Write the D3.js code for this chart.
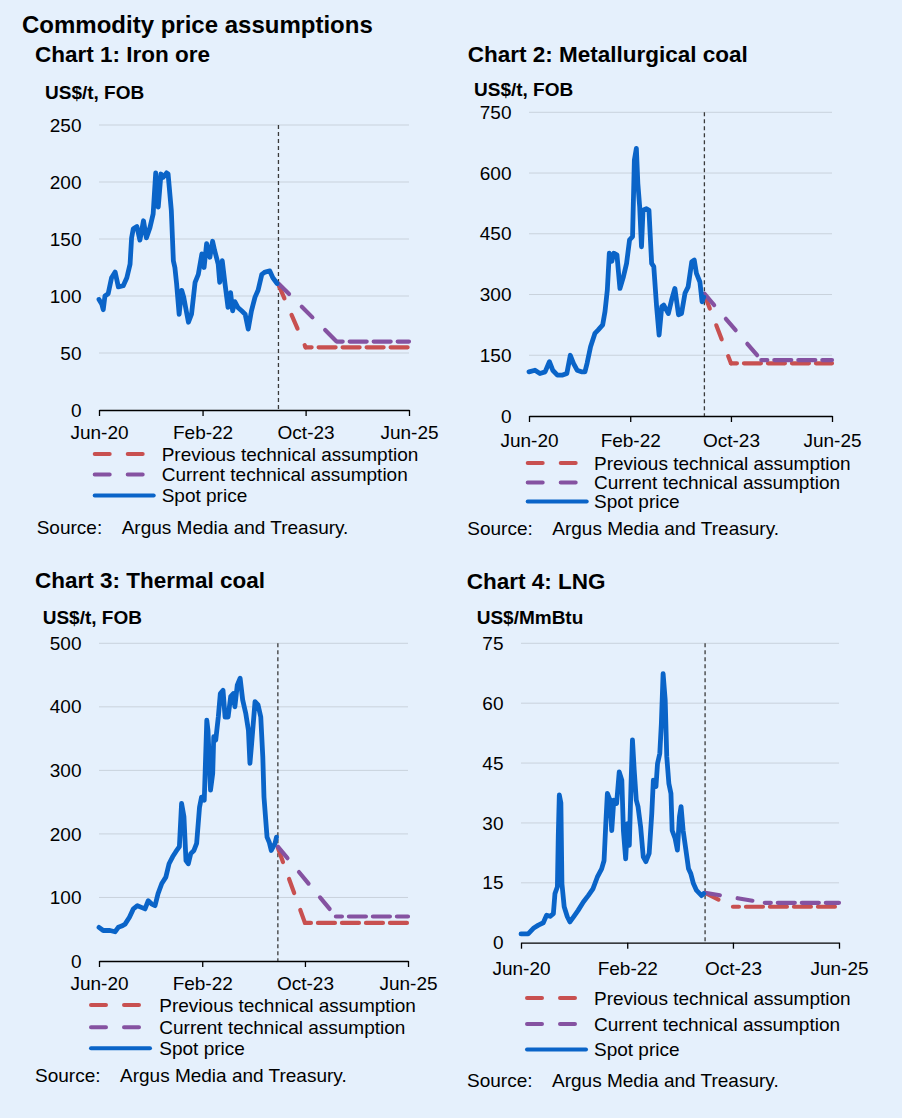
<!DOCTYPE html>
<html><head><meta charset="utf-8">
<script src="https://cdn.jsdelivr.net/npm/d3@7"></script>
<style>
html,body{margin:0;padding:0;background:#E5F0FC;}
svg{display:block;}
</style></head><body>
<svg id="c" width="902" height="1118"></svg>
<script>
// ---------------- DATA ----------------
const mainTitle = "Commodity price assumptions";
const chartTitles = ["Chart 1: Iron ore", "Chart 2: Metallurgical coal", "Chart 3: Thermal coal", "Chart 4: LNG"];
const unitLabels = ["US$/t, FOB", "US$/t, FOB", "US$/t, FOB", "US$/MmBtu"];
const xDomain = ["2020-06-01", "2025-06-01"];
const xTickDates = ["2020-06-01", "2022-02-01", "2023-10-01", "2025-06-01"];
const xTickLabels = ["Jun-20", "Feb-22", "Oct-23", "Jun-25"];
const forecastStart = "2023-04-24";
const legendLabels = ["Previous technical assumption", "Current technical assumption", "Spot price"];
const sourceLabel = "Source:";
const sourceText = "Argus Media and Treasury.";

const ironYTicks = [0, 50, 100, 150, 200, 250];
const metYTicks = [0, 150, 300, 450, 600, 750];
const thermalYTicks = [0, 100, 200, 300, 400, 500];
const lngYTicks = [0, 15, 30, 45, 60, 75];

const ironSpot = [
 ["2020-06-01",97],["2020-06-17",93],["2020-06-26",88],["2020-07-06",100],["2020-07-25",102],
 ["2020-08-14",116],["2020-09-04",121],["2020-09-23",108],["2020-10-22",109],["2020-11-12",116],
 ["2020-12-01",128],["2020-12-10",151],["2020-12-20",159],["2021-01-10",161],["2021-01-28",149],
 ["2021-02-18",166],["2021-03-07",151],["2021-03-28",160],["2021-04-16",172],["2021-05-01",208],
 ["2021-05-16",178],["2021-06-01",207],["2021-06-13",204],["2021-07-04",208],["2021-07-13",207],
 ["2021-08-01",175],["2021-08-13",131],["2021-08-22",125],["2021-09-01",111],["2021-09-16",84],
 ["2021-10-01",105],["2021-10-13",99],["2021-10-28",87],["2021-11-10",77],["2021-11-28",84],
 ["2021-12-19",112],["2022-01-07",119],["2022-01-28",137],["2022-02-10",125],["2022-02-25",146],
 ["2022-03-16",134],["2022-04-01",148],["2022-04-13",140],["2022-05-04",128],["2022-05-13",112],
 ["2022-05-28",131],["2022-06-13",111],["2022-07-01",90],["2022-07-16",103],["2022-07-28",87],
 ["2022-08-10",95],["2022-08-28",90],["2022-09-19",87],["2022-10-10",84],["2022-10-28",71],
 ["2022-11-16",87],["2022-12-07",99],["2022-12-25",105],["2023-01-16",119],["2023-02-04",121],
 ["2023-03-04",122],["2023-03-22",116],["2023-04-16",111]
];
const ironPrevious = [["2023-04-24",110],["2023-10-01",55],["2025-06-01",55]];
const ironCurrent = [["2023-04-24",111],["2024-04-01",60],["2025-06-01",60]];

const metSpot = [
 ["2020-06-01",109],["2020-07-07",113],["2020-08-06",105],["2020-09-06",109],["2020-10-02",134],
 ["2020-10-22",113],["2020-11-19",101],["2020-12-21",101],["2021-01-15",105],["2021-02-05",150],
 ["2021-02-24",130],["2021-03-18",113],["2021-04-13",109],["2021-05-04",109],["2021-05-17",130],
 ["2021-06-07",171],["2021-07-03",204],["2021-07-22",212],["2021-08-19",225],["2021-09-02",258],
 ["2021-09-16",311],["2021-09-28",402],["2021-10-13",382],["2021-10-25",402],["2021-11-13",398],
 ["2021-12-01",315],["2021-12-22",344],["2022-01-10",377],["2022-01-28",435],["2022-02-15",443],
 ["2022-02-26",632],["2022-03-10",661],["2022-03-19",574],["2022-03-30",517],["2022-04-10",418],
 ["2022-04-19",508],["2022-05-10",512],["2022-05-25",508],["2022-06-10",377],["2022-06-23",369],
 ["2022-07-10",270],["2022-07-25",200],["2022-08-10",270],["2022-08-22",274],["2022-09-19",253],
 ["2022-10-08",286],["2022-10-28",315],["2022-11-19",250],["2022-12-07",253],["2022-12-28",303],
 ["2023-01-16",319],["2023-02-07",381],["2023-02-22",385],["2023-03-07",352],["2023-03-28",331],
 ["2023-04-10",282],["2023-04-20",294]
];
const metPrevious = [["2023-04-24",300],["2023-10-01",130],["2025-06-01",130]];
const metCurrent = [["2023-04-24",302],["2024-04-01",138],["2025-06-01",138]];

const thermalSpot = [
 ["2020-06-01",53],["2020-06-26",48],["2020-08-05",48],["2020-09-04",46],["2020-09-23",53],
 ["2020-10-13",55],["2020-11-02",58],["2020-11-28",69],["2020-12-21",82],["2021-01-14",87],
 ["2021-02-10",84],["2021-02-28",82],["2021-03-19",95],["2021-04-07",90],["2021-04-28",87],
 ["2021-05-16",106],["2021-06-07",122],["2021-07-01",132],["2021-07-20",153],["2021-08-10",164],
 ["2021-08-29",172],["2021-09-19",180],["2021-10-02",248],["2021-10-16",227],["2021-10-28",158],
 ["2021-11-11",153],["2021-11-25",169],["2021-12-14",174],["2021-12-30",185],["2022-01-16",242],
 ["2022-01-28",258],["2022-02-13",253],["2022-02-28",379],["2022-03-07",363],["2022-03-22",269],
 ["2022-04-04",295],["2022-04-10",353],["2022-04-22",348],["2022-05-07",384],["2022-05-19",421],
 ["2022-06-04",426],["2022-06-16",384],["2022-07-04",384],["2022-07-19",416],["2022-08-04",421],
 ["2022-08-13",400],["2022-08-27",434],["2022-09-13",445],["2022-09-28",411],["2022-10-16",390],
 ["2022-11-01",363],["2022-11-10",311],["2022-11-20",342],["2022-12-10",408],["2022-12-28",403],
 ["2023-01-13",384],["2023-01-25",321],["2023-02-01",258],["2023-02-19",195],["2023-03-04",187],
 ["2023-03-16",174],["2023-04-07",185],["2023-04-16",195]
];
const thermalPrevious = [["2023-04-24",178],["2023-10-01",60],["2025-06-01",60]];
const thermalCurrent = [["2023-04-24",180],["2024-04-01",70],["2025-06-01",70]];

const lngSpot = [
 ["2020-06-01",2.2],["2020-07-12",2.2],["2020-08-11",3.6],["2020-09-09",4.4],["2020-10-07",5.0],
 ["2020-10-26",6.9],["2020-11-15",6.6],["2020-12-04",7.3],["2020-12-13",12.3],["2020-12-27",14.0],
 ["2021-01-01",26.6],["2021-01-07",37],["2021-01-16",35],["2021-01-22",14.8],["2021-02-04",9],
 ["2021-02-22",6.5],["2021-03-09",5.2],["2021-04-01",6.6],["2021-04-25",8.1],["2021-05-25",10.2],
 ["2021-06-22",11.8],["2021-07-19",13.5],["2021-08-13",16.4],["2021-09-07",18.5],["2021-09-21",20.6],
 ["2021-10-01",29.8],["2021-10-10",37.4],["2021-10-25",35.7],["2021-11-04",28.1],["2021-11-16",35.7],
 ["2021-12-02",34.9],["2021-12-17",42.8],["2022-01-01",40.7],["2022-01-10",28.1],["2022-01-23",21],
 ["2022-02-03",29.8],["2022-02-13",24.4],["2022-02-23",39.9],["2022-03-03",50.8],["2022-03-13",43.3],
 ["2022-03-25",35.7],["2022-04-04",34.1],["2022-04-19",29],["2022-05-04",21.5],["2022-05-19",20.3],
 ["2022-06-07",22.4],["2022-06-22",32.4],["2022-07-01",40.7],["2022-07-16",39.1],["2022-07-25",44.9],
 ["2022-08-07",47.4],["2022-08-16",54.9],["2022-08-26",67.4],["2022-09-07",60.8],["2022-09-16",46.6],
 ["2022-09-28",39.9],["2022-10-10",37.4],["2022-10-17",28.1],["2022-11-03",26.1],["2022-11-16",23.2],
 ["2022-11-28",31.6],["2022-12-07",34.1],["2022-12-19",28.1],["2023-01-04",23.2],["2023-01-19",18.5],
 ["2023-02-01",17.3],["2023-02-16",14.8],["2023-03-06",13.1],["2023-04-04",11.8],["2023-04-16",12.3]
];
const lngPrevious = [["2023-04-24",12.5],["2023-10-01",9],["2025-06-01",9]];
const lngCurrent = [["2023-04-24",12.5],["2024-04-01",10],["2025-06-01",10]];

// ---------------- STYLE / LAYOUT ----------------
const FONT = "'Liberation Sans', Arial, Helvetica, sans-serif";
const COL_SPOT = "#0A64C8", COL_PREV = "#C85050", COL_CURR = "#8552A1";
const COL_GRID = "#C9D2DC";

const charts = [
 {title:chartTitles[0], unit:unitLabels[0], yTicks:ironYTicks, spot:ironSpot, prev:ironPrevious, curr:ironCurrent,
  left:99, right:409, top:125, bottom:410, titleX:35, titleY:62, unitX:45, unitY:99, tickPad:10,
  legX:92.7, legTextX:161.7, legRows:[454,474.5,495.5], srcX:36.7, srcY:527.5},
 {title:chartTitles[1], unit:unitLabels[1], yTicks:metYTicks, spot:metSpot, prev:metPrevious, curr:metCurrent,
  left:529, right:832, top:112.3, bottom:416, titleX:467.7, titleY:61.7, unitX:474, unitY:95.7, tickPad:12,
  legX:525.7, legTextX:594, legRows:[463,482.5,501.5], srcX:467.3, srcY:528},
 {title:chartTitles[2], unit:unitLabels[2], yTicks:thermalYTicks, spot:thermalSpot, prev:thermalPrevious, curr:thermalCurrent,
  left:99, right:408, top:643.3, bottom:961, titleX:35, titleY:588.3, unitX:42.7, unitY:624.3, tickPad:9.6,
  legX:89, legTextX:159.3, legRows:[1005,1027.3,1048.3], srcX:35, srcY:1075},
 {title:chartTitles[3], unit:unitLabels[3], yTicks:lngYTicks, spot:lngSpot, prev:lngPrevious, curr:lngCurrent,
  left:521, right:839, top:643.3, bottom:942.7, titleX:466.7, titleY:589.3, unitX:476.7, unitY:624.3, tickPad:12.6,
  legX:525, legTextX:594, legRows:[998,1024,1049.5], srcX:467, srcY:1080}
];

const parse = d3.timeParse("%Y-%m-%d");
const svg = d3.select("#c").style("font-family", FONT);

svg.append("rect").attr("width",902).attr("height",1118).attr("fill","#E5F0FC");

svg.append("text").attr("x",22).attr("y",33).attr("font-size",24).attr("font-weight","bold")
  .attr("fill","#000").text(mainTitle);

charts.forEach(cfg => {
  const g = svg.append("g");
  const x = d3.scaleTime().domain(xDomain.map(parse)).range([cfg.left, cfg.right]);
  const y = d3.scaleLinear().domain([0, d3.max(cfg.yTicks)]).range([cfg.bottom, cfg.top]);

  g.append("text").attr("x",cfg.titleX).attr("y",cfg.titleY).attr("font-size",22.5).attr("font-weight","bold").text(cfg.title);
  g.append("text").attr("x",cfg.unitX).attr("y",cfg.unitY).attr("font-size",19).attr("font-weight","bold").text(cfg.unit);

  // gridlines
  g.selectAll("line.grid").data(cfg.yTicks.filter(t => t > 0)).join("line").attr("class","grid")
    .attr("x1",cfg.left).attr("x2",cfg.right).attr("y1",d=>y(d)).attr("y2",d=>y(d))
    .attr("stroke",COL_GRID).attr("stroke-width",1);

  // y tick labels
  g.selectAll("text.yl").data(cfg.yTicks).join("text").attr("class","yl")
    .attr("x",cfg.left-17.5).attr("y",d=>y(d)).attr("dy","0.35em").attr("text-anchor","end")
    .attr("font-size",19).text(d=>d);

  // x axis
  const ax = d3.axisBottom(x).tickValues(xTickDates.map(parse))
    .tickFormat((d,i)=>xTickLabels[i]).tickSizeInner(6).tickSizeOuter(0).tickPadding(cfg.tickPad);
  const axG = g.append("g").attr("transform",`translate(0,${cfg.bottom})`).call(ax);
  axG.attr("font-family",FONT).attr("font-size",19);
  axG.select(".domain").attr("stroke","#000").attr("stroke-width",1.3);
  axG.selectAll(".tick line").attr("stroke","#000").attr("stroke-width",1.3);
  axG.selectAll(".tick text").attr("fill","#000");

  // forecast divider
  const fx = x(parse(forecastStart));
  g.append("line").attr("x1",fx).attr("x2",fx).attr("y1",y(d3.max(cfg.yTicks))).attr("y2",cfg.bottom)
    .attr("stroke","#3a3a3a").attr("stroke-width",1.3).attr("stroke-dasharray","4,3");

  const line = d3.line().x(d=>x(parse(d[0]))).y(d=>y(d[1]));

  function proj(pts, col){
    g.append("path").attr("d",line(pts.slice(0,2))).attr("fill","none").attr("stroke",col)
      .attr("stroke-width",4.2).attr("stroke-linecap","round").attr("stroke-dasharray","15,18");
    g.append("path").attr("d",line(pts.slice(1))).attr("fill","none").attr("stroke",col)
      .attr("stroke-width",4.2).attr("stroke-linecap","round").attr("stroke-dasharray","17,7")
      .attr("stroke-dashoffset",11);
  }
  proj(cfg.prev, COL_PREV);
  proj(cfg.curr, COL_CURR);

  g.append("path").attr("d",line(cfg.spot)).attr("fill","none").attr("stroke",COL_SPOT)
    .attr("stroke-width",4.8).attr("stroke-linejoin","round").attr("stroke-linecap","round");

  // legend
  const legCols = [COL_PREV, COL_CURR, COL_SPOT];
  legendLabels.forEach((lab,i) => {
    const ry = cfg.legRows[i];
    const ln = g.append("line").attr("x1",cfg.legX+2).attr("y1",ry).attr("y2",ry)
      .attr("stroke",legCols[i]).attr("stroke-width",4).attr("stroke-linecap","round");
    if (i < 2) ln.attr("x2",cfg.legX+50).attr("stroke-dasharray","15,18");
    else ln.attr("x2",cfg.legX+61);
    g.append("text").attr("x",cfg.legTextX).attr("y",ry).attr("dy","0.35em").attr("font-size",19).text(lab);
  });

  g.append("text").attr("x",cfg.srcX).attr("y",cfg.srcY).attr("dy","0.35em").attr("font-size",19).text(sourceLabel);
  g.append("text").attr("x",cfg.srcX+85).attr("y",cfg.srcY).attr("dy","0.35em").attr("font-size",19).text(sourceText);
});
</script>
</body></html>
